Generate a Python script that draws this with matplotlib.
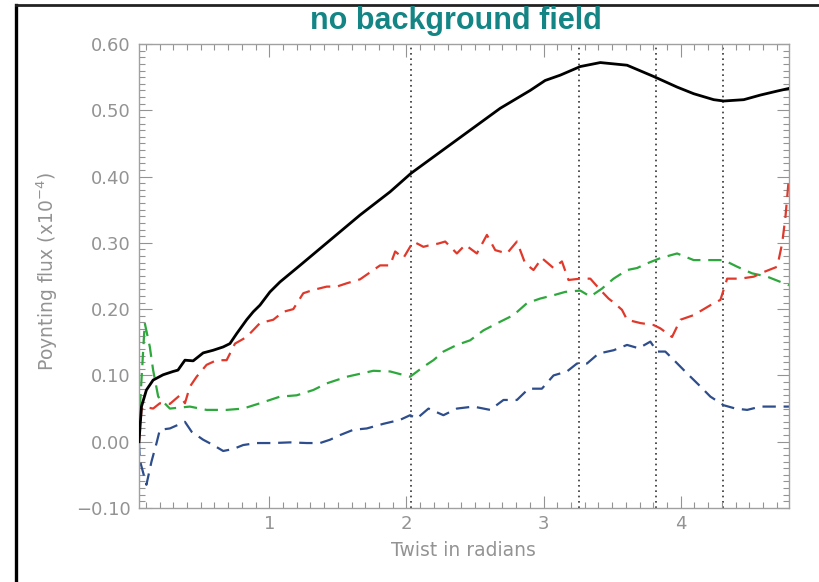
import matplotlib
matplotlib.use("Agg")
import matplotlib.pyplot as plt
from matplotlib.lines import Line2D
from matplotlib.ticker import MultipleLocator, FuncFormatter

plt.rcParams['font.family'] = ['DejaVu Sans']

# total flux (solid black)
x_total = [0.05, 0.068, 0.104, 0.153, 0.226, 0.299, 0.334, 0.385, 0.445, 0.518,
           0.591, 0.664, 0.713, 0.762, 0.835, 0.883, 0.932, 1.005, 1.078, 1.224,
           1.443, 1.662, 1.881, 2.034, 2.246, 2.465, 2.684, 2.903, 3.012, 3.122,
           3.268, 3.414, 3.609, 3.803, 3.974, 4.095, 4.241, 4.314, 4.460, 4.582,
           4.704, 4.79]
y_total = [0.0, 0.053, 0.078, 0.093, 0.101, 0.106, 0.108, 0.123, 0.122, 0.134,
           0.138, 0.143, 0.148, 0.163, 0.184, 0.196, 0.206, 0.226, 0.241, 0.266,
           0.304, 0.342, 0.377, 0.405, 0.437, 0.470, 0.503, 0.530, 0.545, 0.553,
           0.566, 0.572, 0.568, 0.551, 0.535, 0.525, 0.516, 0.514, 0.516, 0.523,
           0.529, 0.533]

# red component
x_red = [0.05, 0.068, 0.080, 0.153, 0.202, 0.275, 0.348, 0.385, 0.421, 0.470,
         0.543, 0.616, 0.689, 0.750, 0.835, 0.932, 1.029, 1.102, 1.175, 1.248,
         1.321, 1.419, 1.492, 1.565, 1.662, 1.808, 1.881, 1.918, 1.978, 2.027,
         2.051, 2.124, 2.161, 2.234, 2.283, 2.368, 2.429, 2.514, 2.587, 2.648,
         2.733, 2.806, 2.866, 2.927, 2.988, 3.073, 3.134, 3.182, 3.268, 3.341,
         3.414, 3.474, 3.511, 3.572, 3.609, 3.706, 3.803, 3.852, 3.937, 3.998,
         4.095, 4.217, 4.290, 4.339, 4.436, 4.533, 4.606, 4.704, 4.740, 4.764,
         4.79]
y_red = [0.0, 0.048, 0.053, 0.050, 0.058, 0.057, 0.070, 0.058, 0.083, 0.098,
         0.116, 0.123, 0.123, 0.148, 0.158, 0.179, 0.184, 0.196, 0.200, 0.224,
         0.229, 0.234, 0.234, 0.239, 0.245, 0.266, 0.266, 0.287, 0.277, 0.294,
         0.302, 0.294, 0.296, 0.299, 0.302, 0.284, 0.297, 0.284, 0.312, 0.289,
         0.284, 0.302, 0.269, 0.259, 0.277, 0.262, 0.272, 0.244, 0.246, 0.246,
         0.229, 0.216, 0.210, 0.199, 0.184, 0.179, 0.176, 0.171, 0.158, 0.184,
         0.191, 0.206, 0.214, 0.246, 0.246, 0.249, 0.256, 0.264, 0.299, 0.339,
         0.400]

# green component
x_green = [0.05, 0.056, 0.092, 0.129, 0.153, 0.190, 0.275, 0.421, 0.543, 0.689,
           0.810, 0.932, 1.078, 1.200, 1.321, 1.419, 1.565, 1.759, 1.881, 2.027,
           2.124, 2.197, 2.270, 2.368, 2.465, 2.562, 2.684, 2.781, 2.879, 2.976,
           3.073, 3.158, 3.268, 3.341, 3.426, 3.511, 3.609, 3.682, 3.755, 3.852,
           3.974, 4.095, 4.193, 4.314, 4.412, 4.521, 4.631, 4.79]
y_green = [0.02, 0.05, 0.179, 0.143, 0.108, 0.068, 0.050, 0.053, 0.048, 0.048,
           0.050, 0.058, 0.068, 0.070, 0.078, 0.088, 0.098, 0.107, 0.106, 0.098,
           0.113, 0.123, 0.136, 0.146, 0.153, 0.168, 0.181, 0.191, 0.209, 0.216,
           0.221, 0.226, 0.228, 0.219, 0.231, 0.246, 0.259, 0.262, 0.269, 0.277,
           0.284, 0.274, 0.274, 0.274, 0.264, 0.254, 0.249, 0.236]

# blue component
x_blue = [0.05, 0.056, 0.104, 0.141, 0.178, 0.202, 0.275, 0.385, 0.434, 0.518,
          0.591, 0.664, 0.737, 0.810, 0.908, 1.029, 1.151, 1.273, 1.370, 1.443,
          1.516, 1.613, 1.711, 1.832, 1.954, 2.027, 2.076, 2.161, 2.270, 2.368,
          2.489, 2.611, 2.708, 2.806, 2.891, 2.988, 3.073, 3.171, 3.244, 3.317,
          3.401, 3.511, 3.609, 3.694, 3.779, 3.828, 3.888, 3.961, 4.047, 4.131,
          4.217, 4.314, 4.400, 4.485, 4.582, 4.679, 4.79]
y_blue = [0.0, -0.028, -0.065, -0.03, -0.002, 0.018, 0.020, 0.030, 0.015, 0.003,
          -0.005, -0.014, -0.011, -0.005, -0.002, -0.002, -0.001, -0.002, -0.002, 0.003,
          0.010, 0.018, 0.020, 0.027, 0.033, 0.040, 0.035, 0.050, 0.040, 0.050,
          0.053, 0.048, 0.063, 0.063, 0.080, 0.080, 0.100, 0.106, 0.118, 0.118,
          0.133, 0.138, 0.146, 0.141, 0.151, 0.136, 0.136, 0.121, 0.103, 0.086,
          0.068, 0.055, 0.050, 0.048, 0.053, 0.053, 0.053]

# twist values marked with dotted lines
marks = [2.03, 3.26, 3.82, 4.31]

GRAY = '#939393'

fig = plt.figure(figsize=(8.2, 5.82), dpi=100)
ax = fig.add_axes([139 / 820, 1 - 508 / 582, 650 / 820, 464 / 582])

for xm in marks:
    ax.axvline(xm, color='#333333', lw=1.2, ls=(0, (1, 2.2)), zorder=1)

dash = (0, (6, 3.5))
ax.plot(x_blue, y_blue, color='#2d4d8c', lw=1.6, ls=dash, zorder=2)
ax.plot(x_green, y_green, color='#2ea83c', lw=1.6, ls=dash, zorder=2)
ax.plot(x_red, y_red, color='#e0392b', lw=1.6, ls=dash, zorder=2)
ax.plot(x_total, y_total, color='black', lw=2.0, zorder=3)

ax.set_xlim(0.05, 4.79)
ax.set_ylim(-0.10, 0.60)

ax.xaxis.set_major_locator(MultipleLocator(1))
ax.xaxis.set_minor_locator(MultipleLocator(0.1))
ax.yaxis.set_major_locator(MultipleLocator(0.1))
ax.yaxis.set_minor_locator(MultipleLocator(0.01))
ax.yaxis.set_major_formatter(FuncFormatter(lambda v, p: ('%.2f' % v).replace('-', '\u2212')))
ax.xaxis.set_major_formatter(FuncFormatter(lambda v, p: '%d' % round(v)))

ax.tick_params(which='both', direction='in', top=True, right=True,
               color=GRAY, labelcolor=GRAY, labelsize=13, width=0.8)
ax.tick_params(which='major', length=9)
ax.tick_params(which='minor', length=4.5)
ax.tick_params(axis='x', pad=5)
ax.tick_params(axis='y', pad=6)
for sp in ax.spines.values():
    sp.set_color('#a0a0a0')
    sp.set_linewidth(1.0)

fig.text(47 / 820, 1 - 272 / 582, 'Poynting flux (x10$^{-4}$)', rotation=90,
         ha='center', va='center', color=GRAY, fontsize=13.5)
fig.text(463 / 820, 1 - 551 / 582, 'Twist in radians', ha='center', va='center',
         color=GRAY, fontsize=13.5)
fig.text(456 / 820, 1 - 21 / 582, 'no background field', ha='center', va='center',
         color='#148585', fontsize=22, fontweight='bold', family='Liberation Sans')

# outer frame
fig.add_artist(Line2D([16 / 820, 16 / 820], [0, 1 - 5 / 582], color='black',
                      lw=2.4, transform=fig.transFigure))
fig.add_artist(Line2D([16 / 820, 1], [1 - 5 / 582, 1 - 5 / 582], color='#222222',
                      lw=2.0, transform=fig.transFigure))

fig.savefig('out.png', dpi=100)
